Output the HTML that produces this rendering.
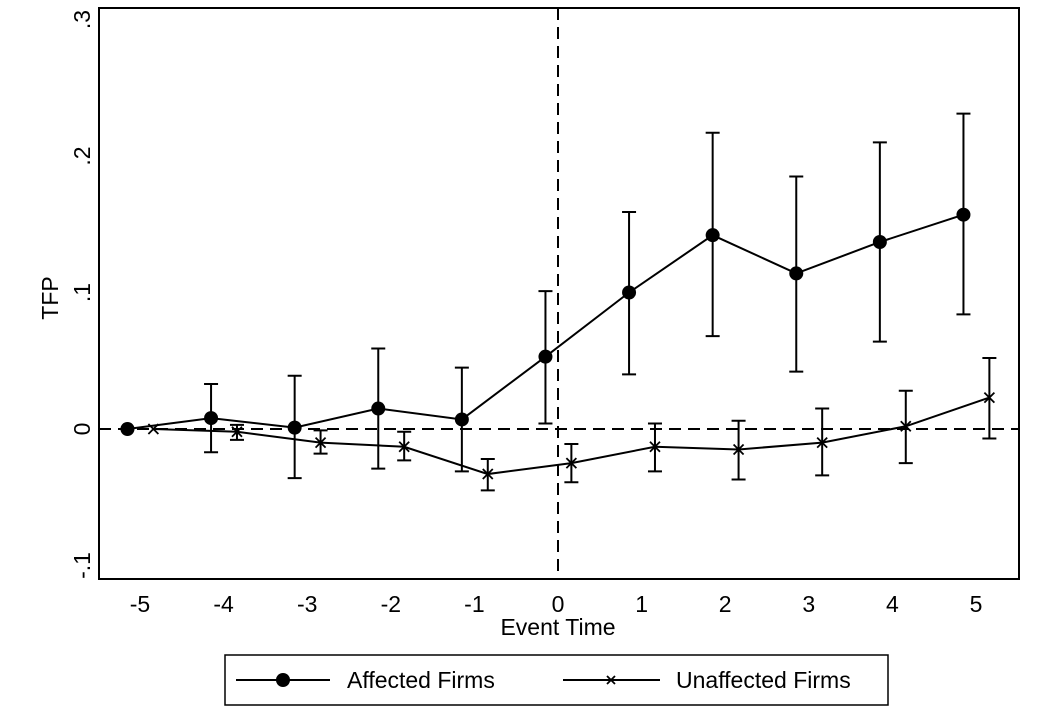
<!DOCTYPE html>
<html><head><meta charset="utf-8"><style>
html,body{margin:0;padding:0;background:#fff;}
svg{display:block;font-family:"Liberation Sans",Arial,sans-serif;}
</style></head><body>
<svg id="chart" width="1064" height="712" viewBox="0 0 1064 712">
<rect x="0" y="0" width="1064" height="712" fill="#fff"/>
<g id="plot"></g>
<rect x="99" y="8" width="920" height="571" fill="none" stroke="#000" stroke-width="2"/>
<text x="558" y="635" font-size="23" text-anchor="middle">Event Time</text>
<text transform="translate(58,298) rotate(-90)" font-size="23" text-anchor="middle">TFP</text>
<g>
<rect x="225" y="655" width="663" height="50" fill="#fff" stroke="#000" stroke-width="1.5"/>
<g>
<line x1="236" y1="680" x2="330" y2="680" stroke="#000" stroke-width="2"/>
<circle cx="283" cy="680" r="7" fill="#000"/>
<text x="347" y="688" font-size="23">Affected Firms</text>
</g>
<g>
<line x1="563" y1="680" x2="660" y2="680" stroke="#000" stroke-width="2"/>
<path d="M607,676 L615,684 M615,676 L607,684" stroke="#000" stroke-width="1.8"/>
<text x="676" y="688" font-size="23">Unaffected Firms</text>
</g>
</g>
</svg>
<script>
const eventTimes=[-5,-4,-3,-2,-1,0,1,2,3,4,5];
const affectedEst=[0,0.008,0.001,0.015,0.007,0.053,0.100,0.142,0.114,0.137,0.157];
const affectedHi=[null,0.033,0.039,0.059,0.045,0.101,0.159,0.217,0.185,0.210,0.231];
const affectedLo=[null,-0.017,-0.036,-0.029,-0.031,0.004,0.040,0.068,0.042,0.064,0.084];
const unaffectedEst=[0,-0.002,-0.010,-0.013,-0.033,-0.025,-0.013,-0.015,-0.010,0.002,0.023];
const unaffectedHi=[null,0.003,-0.001,-0.002,-0.022,-0.011,0.004,0.006,0.015,0.028,0.052];
const unaffectedLo=[null,-0.008,-0.018,-0.023,-0.045,-0.039,-0.031,-0.037,-0.034,-0.025,-0.007];
const xTicks=[-5,-4,-3,-2,-1,0,1,2,3,4,5];
const yTicks=[-0.1,0,0.1,0.2,0.3];
const yTickLabels=["-.1","0",".1",".2",".3"];

const NS="http://www.w3.org/2000/svg";
function xs(v){return 558+v*83.6;}
function ys(v){return 429-v*1365;}
const plot=document.getElementById('plot');
function mk(tag,attrs,parent){const e=document.createElementNS(NS,tag);for(const k in attrs)e.setAttribute(k,attrs[k]);(parent||plot).appendChild(e);return e;}

// reference lines
let l=mk('line',{x1:99,x2:1019,y1:ys(0),y2:ys(0),stroke:'#000','stroke-width':2,'stroke-dasharray':'12,7'});


l=mk('line',{x1:xs(0),x2:xs(0),y1:8,y2:579,stroke:'#000','stroke-width':2,'stroke-dasharray':'12,7'});



// tick labels
xTicks.forEach(t=>{const e=mk('text',{x:xs(t),y:612,'font-size':23,'text-anchor':'middle'});e.textContent=String(t);

});
yTicks.forEach((t,i)=>{const e=mk('text',{transform:`translate(90,${ys(t)}) rotate(-90)`,'font-size':23,'text-anchor':'middle'});e.textContent=yTickLabels[i];

});

function series(est,hi,lo,off,kind){
  const g=mk('g',{});
  
  
  const pts=eventTimes.map((t,i)=>xs(t+off)+','+ys(est[i])).join(' ');
  const pl=mk('polyline',{points:pts,fill:'none',stroke:'#000','stroke-width':2},g);
  
  
  eventTimes.forEach((t,i)=>{
    const x=xs(t+off);
    if(hi[i]!==null){
      const eb=mk('path',{d:`M${x},${ys(hi[i])}V${ys(lo[i])}M${x-7},${ys(hi[i])}H${x+7}M${x-7},${ys(lo[i])}H${x+7}`,stroke:'#000','stroke-width':2,fill:'none'},g);
      
      
    }
    const y=ys(est[i]);
    let m;
    if(kind==='affected'){m=mk('circle',{cx:x,cy:y,r:7,fill:'#000'},g);}
    else{m=mk('path',{d:`M${x-5},${y-5}L${x+5},${y+5}M${x+5},${y-5}L${x-5},${y+5}`,stroke:'#000','stroke-width':1.8},g);}
    
    
  });
}
series(affectedEst,affectedHi,affectedLo,-0.15,'affected');
series(unaffectedEst,unaffectedHi,unaffectedLo,0.16,'unaffected');
</script>
</body></html>
